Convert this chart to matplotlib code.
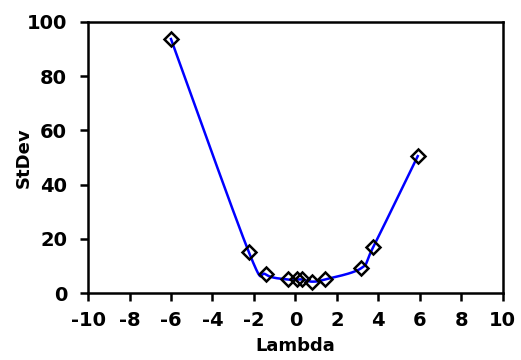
import numpy as np
import matplotlib
matplotlib.use("Agg")
import matplotlib.pyplot as plt

plt.rcParams["axes.unicode_minus"] = False

lam = [-6.0, -2.24, -1.44, -0.35, 0.09, 0.33, 0.81, 1.42, 3.16, 3.75, 5.9]
stdev = [93.7, 15.0, 6.9, 5.0, 5.0, 5.0, 4.2, 5.0, 9.1, 16.9, 50.5]
xticks = list(range(-10, 11, 2))
yticks = list(range(0, 101, 20))


def smooth(x, y, n=30, t=1/6):
    # Excel-like smoothing: cubic Bezier through points with Catmull-Rom tangents
    x = np.asarray(x, float); y = np.asarray(y, float)
    xs, ys = [], []
    for i in range(len(x) - 1):
        p0 = (x[i - 1], y[i - 1]) if i > 0 else (x[i], y[i])
        p1 = (x[i], y[i]); p2 = (x[i + 1], y[i + 1])
        p3 = (x[i + 2], y[i + 2]) if i + 2 < len(x) else p2
        c1 = (p1[0] + (p2[0] - p0[0]) * t, p1[1] + (p2[1] - p0[1]) * t)
        c2 = (p2[0] - (p3[0] - p1[0]) * t, p2[1] - (p3[1] - p1[1]) * t)
        s = np.linspace(0, 1, n)
        bx = (1-s)**3*p1[0] + 3*(1-s)**2*s*c1[0] + 3*(1-s)*s**2*c2[0] + s**3*p2[0]
        by = (1-s)**3*p1[1] + 3*(1-s)**2*s*c1[1] + 3*(1-s)*s**2*c2[1] + s**3*p2[1]
        xs.extend(bx); ys.extend(by)
    return np.array(xs), np.array(ys)


fig = plt.figure(figsize=(5.21, 3.6), dpi=100)
ax = fig.add_axes([0.169, 0.186, 0.796, 0.753])
sx, sy = smooth(lam, stdev)
ax.plot(sx, sy, color="#0000FF", lw=1.8, zorder=2)
ax.plot(lam, stdev, linestyle="none", marker="D", markersize=7.5,
        markerfacecolor="none", markeredgecolor="black", markeredgewidth=1.8, zorder=3)
ax.set_xlim(-10, 10)
ax.set_ylim(0, 100)
ax.set_xticks(xticks)
ax.set_yticks(yticks)
for s in ax.spines.values():
    s.set_linewidth(1.8)
ax.tick_params(direction="out", length=6, width=1.8, labelsize=14)
ax.tick_params(axis="x", pad=7)
ax.tick_params(axis="y", pad=9)
for lbl in ax.get_xticklabels() + ax.get_yticklabels():
    lbl.set_fontweight("bold")
ax.set_xlabel("Lambda", fontsize=13, fontweight="bold", labelpad=5)
ax.set_ylabel("StDev", fontsize=13, fontweight="bold", labelpad=-4)
fig.savefig("out.png", dpi=100)
